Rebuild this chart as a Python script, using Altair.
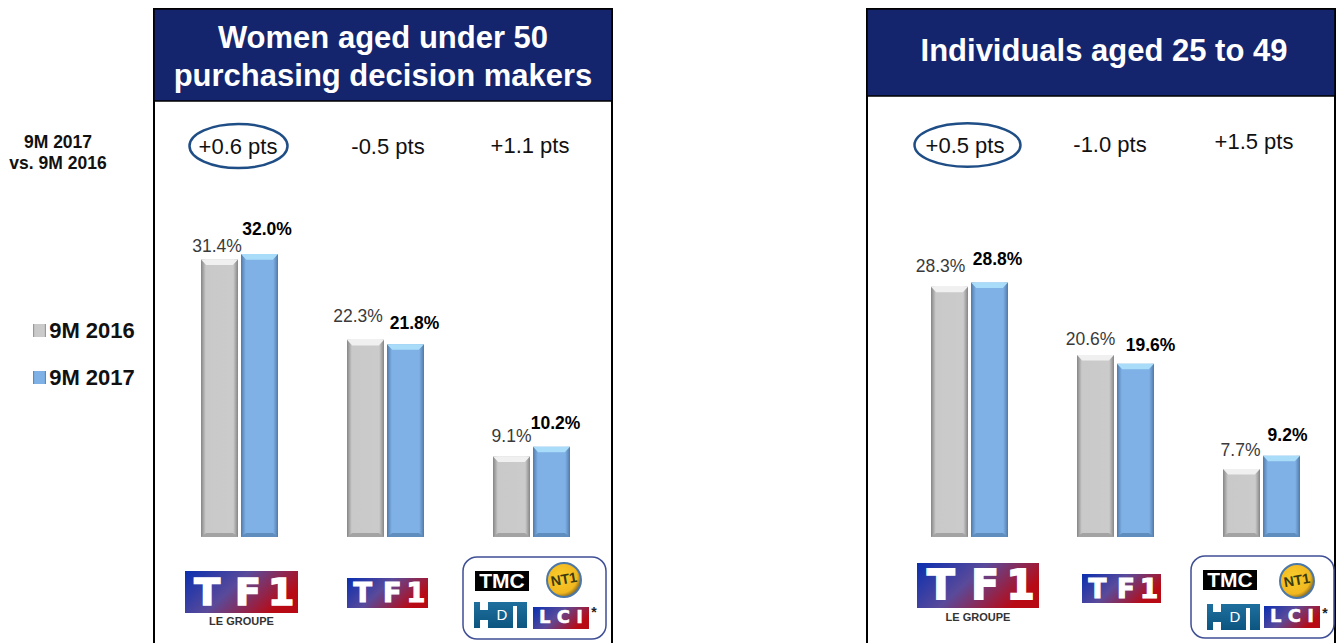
import altair as alt
import pandas as pd

# ---- data ----
slots = ["L-group", "L-tf1", "L-tnt", "gap-1", "gap-2", "R-group", "R-tf1", "R-tnt"]
panel_a_keys = ["L-group", "L-tf1", "L-tnt"]
panel_b_keys = ["R-group", "R-tf1", "R-tnt"]
values_2016_a = [31.4, 22.3, 9.1]
values_2017_a = [32.0, 21.8, 10.2]
values_2016_b = [28.3, 20.6, 7.7]
values_2017_b = [28.8, 19.6, 9.2]
deltas_a = ["+0.6 pts", "-0.5 pts", "+1.1 pts"]
deltas_b = ["+0.5 pts", "-1.0 pts", "+1.5 pts"]

# ---- layout (page px; the page margin is removed in helpers) ----
W, H = 1328, 631
nudge_2016 = [(-2.5, -12), (-7.5, -23), (0, -20), (-9, -20), (-5, -15), (-1, -18)]
nudge_2017 = [(7.5, -24), (9, -20), (4, -23), (8, -22), (15, -18), (6, -20)]
delta_dx = [-2, 2, -2, -5, -6, -8]
FONT = "Liberation Sans"
NAVY = "#14256d"
GRAY_FILL = alt.LinearGradient(gradient="linear", x1=0, x2=1, y1=0, y2=0, stops=[
    alt.GradientStop(color="#858585", offset=0), alt.GradientStop(color="#c9c9c9", offset=0.13),
    alt.GradientStop(color="#cbcbcb", offset=0.87), alt.GradientStop(color="#858585", offset=1)])
BLUE_FILL = alt.LinearGradient(gradient="linear", x1=0, x2=1, y1=0, y2=0, stops=[
    alt.GradientStop(color="#4f7aa8", offset=0), alt.GradientStop(color="#7fb1e6", offset=0.13),
    alt.GradientStop(color="#7fb1e6", offset=0.87), alt.GradientStop(color="#4f7aa8", offset=1)])
LOGO_FILL = alt.LinearGradient(gradient="linear", x1=0, x2=1, y1=0, y2=0.4, stops=[
    alt.GradientStop(color="#0a2fb0", offset=0), alt.GradientStop(color="#5a4a9a", offset=0.5),
    alt.GradientStop(color="#b80a14", offset=1)])
NT1_FILL = alt.RadialGradient(gradient="radial", x1=0.4, y1=0.4, r1=0.1, x2=0.4, y2=0.4, r2=0.65, stops=[
    alt.GradientStop(color="#f8c92a", offset=0), alt.GradientStop(color="#f2b71f", offset=0.7),
    alt.GradientStop(color="#6e5a20", offset=1)])
HD_FILL = alt.LinearGradient(gradient="linear", x1=0, x2=0, y1=0, y2=1, stops=[
    alt.GradientStop(color="#1f6f9e", offset=0), alt.GradientStop(color="#0c5580", offset=1)])

x_scale = alt.Scale(domain=slots, range=[159, 1327], paddingInner=0, paddingOuter=0)
y_scale = alt.Scale(domain=[-11.54, 59.84], zero=False, nice=False)
X = alt.X("slot:N", scale=x_scale, axis=None)
Y = alt.Y("value:Q", scale=y_scale, axis=None)
ONE = alt.Data(values=[{"a": 1}])


def px(v):
    return alt.value(v - 8)


def rect(x0, y0, x1, y1, **style):
    return alt.Chart(ONE).mark_rect(**style).encode(x=px(x0), x2=px(x1), y=px(y0), y2=px(y1))


def label(x, y, s, size, color="black", weight="normal", font=FONT, **kw):
    return alt.Chart(ONE).mark_text(text=s, fontSize=size, color=color, fontWeight=weight,
                                    font=font, baseline="middle", **kw).encode(x=px(x), y=px(y))


def shape(x, y, path, size, **kw):
    return alt.Chart(ONE).mark_point(shape=path, size=size, **kw).encode(x=px(x), y=px(y))


layers = []

# panel frames and headers
layers += [
    rect(154, 9, 612, 660, fill="white", stroke="black", strokeWidth=2),
    rect(154, 9, 612, 101, fill=NAVY, stroke="black", strokeWidth=1.5),
    rect(867, 9, 1335, 660, fill="white", stroke="black", strokeWidth=2),
    rect(867, 9, 1335, 96, fill=NAVY, stroke="black", strokeWidth=1.5),
    label(383, 39, "Women aged under 50", 31, "white", "bold"),
    label(383, 77, "purchasing decision makers", 31, "white", "bold"),
    label(1104, 52, "Individuals aged 25 to 49", 31, "white", "bold"),
]

# left annotations and legend
layers += [
    label(58, 143, "9M 2017", 17.5, "#111111", "bold"),
    label(58, 164, "vs. 9M 2016", 17.5, "#111111", "bold"),
    rect(33, 324, 46, 337, fill=GRAY_FILL),
    rect(33, 371, 46, 384, fill=BLUE_FILL),
    label(92, 331, "9M 2016", 22, "#111111", "bold"),
    label(92, 378, "9M 2017", 22, "#111111", "bold"),
]

# bars
keys = panel_a_keys + panel_b_keys
v16 = values_2016_a + values_2016_b
v17 = values_2017_a + values_2017_b
CHAMFER = "M-1,0 L1,0 L0.72,0.3 L-0.72,0.3 Z"
FOOT = "M-1,0 L1,0 L0.72,-0.22 L-0.72,-0.22 Z"
for vals, off, fill, cap, foot in [
    (v16, -20.5, GRAY_FILL, "#f0f0f0", "#a3a3a3"),
    (v17, 19.5, BLUE_FILL, "#a9dcf8", "#5f8dbd"),
]:
    df = pd.DataFrame({"slot": keys, "value": vals})
    base = alt.Chart(df)
    layers.append(base.mark_bar(width=37, xOffset=off, fill=fill).encode(x=X, y=Y))
    layers.append(base.mark_point(shape=CHAMFER, size=1369, filled=True, color=cap, opacity=1,
                                  xOffset=off).encode(x=X, y=Y))
    layers.append(alt.Chart(df.assign(value=0.0)).mark_point(
        shape=FOOT, size=1369, filled=True, color=foot, opacity=1, xOffset=off).encode(x=X, y=Y))

# value labels
for i, key in enumerate(keys):
    for vals, nudges, off, weight, color in [
        (v16, nudge_2016, -20.5, "normal", "#3a3a3a"),
        (v17, nudge_2017, 19.5, "bold", "black"),
    ]:
        d = pd.DataFrame({"slot": [key], "value": [vals[i]], "txt": [f"{vals[i]:.1f}%"]})
        layers.append(alt.Chart(d).mark_text(
            fontSize=17.5, font=FONT, fontWeight=weight, color=color, baseline="middle",
            dx=off + nudges[i][0], dy=nudges[i][1]).encode(x=X, y=Y, text="txt:N"))

# change labels
delta_y = [147, 147, 146, 146, 145, 142]
for i, (key, txt) in enumerate(zip(keys, deltas_a + deltas_b)):
    d = pd.DataFrame({"slot": [key], "txt": [txt]})
    layers.append(alt.Chart(d).mark_text(
        fontSize=22, font=FONT, color="#111111", baseline="middle", dx=delta_dx[i]).encode(
        x=X, y=px(delta_y[i]), text="txt:N"))

ELLIPSE_A = "M-1,0 A1,0.45 0 1,1 1,0 A1,0.45 0 1,1 -1,0 Z"
ELLIPSE_B = "M-1,0 A1,0.41 0 1,1 1,0 A1,0.41 0 1,1 -1,0 Z"
layers += [
    shape(238.5, 146, ELLIPSE_A, 9604, stroke="#1f4e86", strokeWidth=2.5, filled=False, opacity=1),
    shape(967.5, 145, ELLIPSE_B, 11236, stroke="#1f4e86", strokeWidth=2.5, filled=False, opacity=1),
]


# logos
def tf1_logo(x0, y0, x1, y1, group_y=None):
    h, w = y1 - y0, x1 - x0
    fs = h * 0.9
    out = [rect(x0, y0, x1, y1, fill=LOGO_FILL)]
    for letter, frac in [("T", 0.195), ("F", 0.557), ("1", 0.85)]:
        out.append(label(x0 + frac * w, (y0 + y1) / 2 + h * 0.04, letter, fs, "white", "bold",
                         "DejaVu Sans", stroke="white", strokeWidth=h * 0.04))
    if group_y:
        out.append(label((x0 + x1) / 2, group_y, "LE GROUPE", 11, "#333333", "bold"))
    return out


def tnt_box(x0, y0, nt_x, nt_y, hd_x0, hd_y0, lci_x, lci_y, star_x, star_y):
    return [
        rect(x0, y0, x0 + 143, y0 + 82, fill="white", stroke="#3f4f95", strokeWidth=1.5, cornerRadius=14),
        rect(x0 + 12, y0 + 14, x0 + 66, y0 + 34, fill="black"),
        label(x0 + 39, y0 + 25, "TMC", 21, "white", "bold"),
        shape(nt_x, nt_y, "M-1,0 A1,1 0 1,1 1,0 A1,1 0 1,1 -1,0 Z", 1156, fill=NT1_FILL, opacity=1),
        label(nt_x, nt_y, "NT1", 14, "#3a3a10", "bold", angle=350),
        rect(hd_x0, hd_y0, hd_x0 + 53, hd_y0 + 26, fill=HD_FILL),
        rect(hd_x0 + 6, hd_y0, hd_x0 + 14, hd_y0 + 8, fill="white"),
        rect(hd_x0 + 6, hd_y0 + 18, hd_x0 + 14, hd_y0 + 26, fill="white"),
        rect(hd_x0 + 39, hd_y0 + 4, hd_x0 + 43, hd_y0 + 26, fill="white"),
        label(hd_x0 + 28, hd_y0 + 13, "D", 15, "white", "normal"),
        rect(lci_x - 28, lci_y - 11, lci_x + 28, lci_y + 11, fill=LOGO_FILL),
        label(lci_x, lci_y, "L C I", 18, "white", "bold", "DejaVu Sans", stroke="white", strokeWidth=0.5),
        label(star_x, star_y, "*", 14, "#222222", "bold"),
    ]


layers += tf1_logo(185, 571, 298, 613, 622)
layers += tf1_logo(347, 578, 428, 608)
layers += tnt_box(463, 557, 564, 580, 474, 602, 561, 618, 594, 613)
layers += tf1_logo(917, 563, 1039, 608, 618)
layers += tf1_logo(1082, 574, 1161, 603)
layers += tnt_box(1191, 556, 1297, 581, 1207, 604, 1292, 617, 1325, 614)

chart = alt.layer(*layers).properties(
    width=W, height=H, padding=0, background="white"
).configure_view(stroke=None)
chart.save("out.html", embed_options={"renderer": "svg", "actions": False})
